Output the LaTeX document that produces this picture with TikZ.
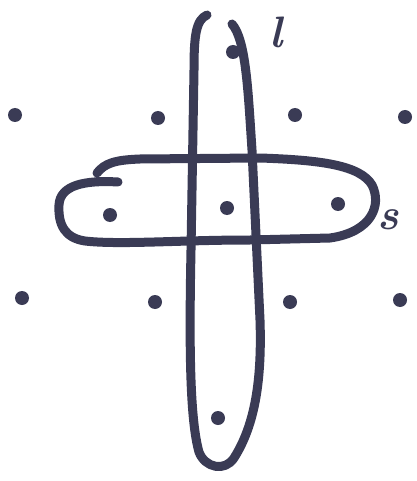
\documentclass[tikz,border=0pt]{standalone}
\definecolor{ink}{HTML}{3A3B55}
\begin{document}
\begin{tikzpicture}[x=1pt,y=-1pt,
  pen/.style={draw=ink,line width=9pt,line cap=round,line join=round},
  dot/.style={circle,fill=ink,inner sep=0pt,minimum size=14pt},
  lab/.style={text=ink,font=\fontsize{44}{44}\selectfont\bfseries\itshape,inner sep=0pt}]
\useasboundingbox (0,0) rectangle (416,481);
\fill[white] (0,0) rectangle (416,481);
% dots
\node[dot] (a1) at (15,115) {};
\node[dot] (a2) at (158,118) {};
\node[dot] (a3) at (295,115) {};
\node[dot] (a4) at (405,117) {};
\node[dot] (b1) at (110,215) {};
\node[dot] (b2) at (227,208) {};
\node[dot] (b3) at (338,204) {};
\node[dot] (c1) at (22,298) {};
\node[dot] (c2) at (155,302) {};
\node[dot] (c3) at (290,302) {};
\node[dot] (c4) at (400,300) {};
\node[dot] (t) at (233,52) {};
\node[dot] (u) at (218,418) {};
% vertical loop
\draw[pen] (207,15) .. controls (196,20) and (194,35) .. (194,70)
  -- (191,250) .. controls (189,350) and (190,420) .. (199,452)
  .. controls (205,468) and (225,472) .. (234,458)
  .. controls (255,425) and (262,380) .. (260,320)
  -- (252,150) .. controls (248,90) and (246,40) .. (232,24);
% horizontal loop
\draw[pen] (97,173) .. controls (105,163) and (115,160) .. (140,159)
  -- (260,158) .. controls (320,160) and (360,165) .. (372,185)
  .. controls (382,205) and (372,232) .. (330,238)
  -- (250,240) .. controls (180,240) and (120,245) .. (85,241)
  .. controls (65,238) and (58,225) .. (59,205)
  .. controls (60,185) and (85,180) .. (118,182);
% labels
\node[lab] (l) at (276,32) {l};
\node[lab] (s) at (388,220) {s};
\end{tikzpicture}
\end{document}
